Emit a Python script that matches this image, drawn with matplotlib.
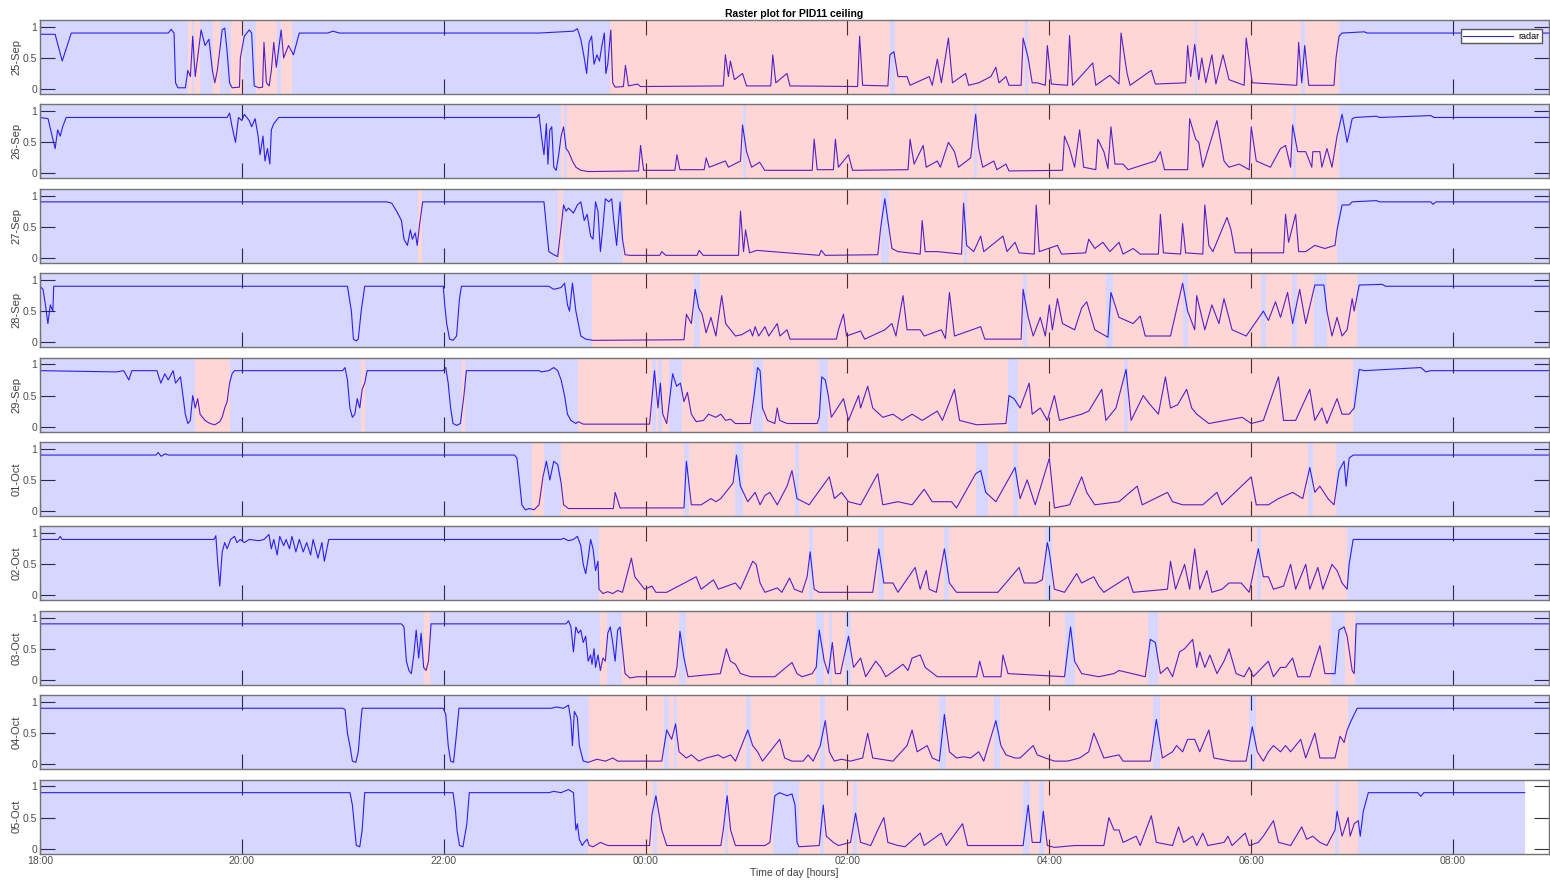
import matplotlib.pyplot as plt

# radar signal per night, hours after 18:00 -> normalised value
d25sep = [(0, .88), (.15, .88), (.22, .45), (.31, .9), (1.27, .9), (1.30, .96), (1.328, .9), (1.343, .1), (1.367, .02),
          (1.44, .02), (1.465, .3), (1.49, .2), (1.513, .85), (1.538, .2), (1.596, .95), (1.635, .7), (1.674, .8),
          (1.708, .3), (1.732, .1), (1.757, .3), (1.805, .95), (1.83, .98), (1.854, .6), (1.878, .1), (1.903, .02),
          (1.976, .03), (1.985, .5), (2.024, .85), (2.073, .95), (2.097, .9), (2.122, .05), (2.17, .02), (2.205, .03),
          (2.219, .75), (2.243, .1), (2.27, .05), (2.292, .3), (2.316, .75), (2.341, .35), (2.389, .95), (2.414, .5),
          (2.462, .7), (2.511, .55), (2.569, .9), (2.85, .9), (2.90, .93), (2.97, .9), (4.94, .9), (5.285, .93),
          (5.324, .97), (5.358, .8), (5.392, .5), (5.416, .25), (5.44, .75), (5.465, .85), (5.489, .4), (5.518, .55),
          (5.543, .45), (5.567, .7), (5.591, .9), (5.606, .25), (5.625, .4), (5.655, .95), (5.674, .1), (5.698, .03),
          (5.78, .04), (5.80, .38), (5.83, .05), (5.92, .08), (5.95, .04), (6.77, .05), (6.79, .55), (6.82, .2),
          (6.84, .45), (6.88, .15), (6.96, .25), (7.0, .05), (7.24, .05), (7.26, .55), (7.29, .1), (7.40, .25),
          (7.43, .05), (8.10, .04), (8.12, .85), (8.15, .06), (8.40, .05), (8.42, .55), (8.46, .6), (8.50, .2),
          (8.59, .2), (8.62, .06), (8.81, .2), (8.84, .06), (8.89, .48), (8.93, .1), (9.0, .82), (9.04, .1),
          (9.17, .25), (9.20, .06), (9.30, .1), (9.42, .2), (9.47, .35), (9.5, .1), (9.57, .2), (9.6, .06),
          (9.72, .06), (9.74, .82), (9.79, .5), (9.83, .1), (9.88, .1), (9.96, .06), (9.98, .7), (10.02, .08),
          (10.18, .06), (10.2, .86), (10.23, .06), (10.43, .42), (10.46, .06), (10.6, .22), (10.69, .08), (10.71, .9),
          (10.77, .25), (10.8, .06), (11.01, .3), (11.05, .08), (11.35, .1), (11.37, .7), (11.40, .2), (11.44, .72),
          (11.48, .15), (11.51, .5), (11.55, .1), (11.61, .55), (11.65, .08), (11.72, .55), (11.78, .15), (11.93, .06),
          (11.95, .82), (12.01, .1), (12.45, .06), (12.47, .75), (12.50, .1), (12.53, .7), (12.57, .06), (12.82, .06),
          (12.84, .5), (12.87, .85), (12.90, .9), (13.12, .92), (13.15, .9), (13.95, .9), (14.95, .9)]

d26sep = [(0, .9), (.08, .88), (.12, .6), (.15, .4), (.175, .7), (.2, .6), (.224, .75), (.26, .9), (1.854, .9),
          (1.878, .97), (1.903, .75), (1.937, .5), (1.966, .9), (2.0, .85), (2.024, .95), (2.073, .85), (2.097, .75),
          (2.131, .88), (2.161, .6), (2.18, .3), (2.209, .6), (2.229, .2), (2.253, .4), (2.277, .15), (2.292, .7),
          (2.316, .8), (2.365, .9), (4.92, .9), (4.944, .95), (4.968, .6), (4.993, .3), (5.017, .8), (5.032, .15),
          (5.051, .7), (5.07, .75), (5.09, .1), (5.114, .05), (5.139, .3), (5.163, .6), (5.187, .75), (5.212, .4),
          (5.236, .35), (5.275, .2), (5.309, .1), (5.358, .05), (5.43, .03), (5.93, .04), (5.95, .45), (5.98, .05),
          (6.29, .05), (6.31, .3), (6.34, .06), (6.58, .06), (6.6, .25), (6.63, .1), (6.79, .2), (6.82, .1),
          (6.94, .2), (6.96, .78), (7.0, .35), (7.05, .1), (7.13, .18), (7.18, .05), (7.65, .05), (7.67, .55),
          (7.7, .06), (7.86, .06), (7.88, .55), (7.91, .1), (8.01, .3), (8.05, .05), (8.60, .06), (8.62, .55),
          (8.66, .15), (8.75, .45), (8.78, .1), (8.89, .2), (8.92, .1), (9.0, .5), (9.06, .35), (9.1, .1),
          (9.22, .25), (9.27, .95), (9.3, .4), (9.34, .1), (9.45, .2), (9.48, .06), (9.57, .15), (9.6, .04),
          (10.13, .05), (10.15, .6), (10.2, .4), (10.25, .1), (10.3, .7), (10.34, .1), (10.46, .06), (10.48, .55),
          (10.54, .35), (10.58, .08), (10.61, .75), (10.65, .15), (10.73, .15), (10.78, .06), (11.05, .2), (11.1, .35),
          (11.14, .06), (11.37, .06), (11.39, .88), (11.45, .55), (11.48, .5), (11.52, .1), (11.66, .85), (11.73, .2),
          (11.78, .1), (11.88, .15), (11.98, .06), (12.0, .75), (12.05, .2), (12.19, .1), (12.29, .4), (12.34, .45),
          (12.39, .1), (12.41, .78), (12.46, .35), (12.54, .35), (12.6, .1), (12.61, .35), (12.68, .35), (12.7, .1),
          (12.75, .4), (12.8, .1), (12.85, .6), (12.9, .95), (12.95, .5), (13.0, .88), (13.03, .9), (13.24, .92),
          (13.27, .9), (13.78, .93), (13.81, .9), (14.95, .9)]

d27sep = [(0, .9), (3.435, .9), (3.484, .88), (3.533, .75), (3.581, .6), (3.606, .3), (3.64, .2), (3.669, .45),
          (3.689, .3), (3.718, .4), (3.737, .2), (3.762, .55), (3.791, .9), (4.993, .9), (5.017, .5), (5.041, .1),
          (5.09, .05), (5.129, .02), (5.163, .5), (5.187, .85), (5.212, .75), (5.236, .8), (5.285, .72), (5.324, .85),
          (5.358, .9), (5.392, .6), (5.421, .7), (5.455, .35), (5.479, .3), (5.504, .9), (5.528, .75), (5.552, .1),
          (5.577, .5), (5.601, .95), (5.635, .9), (5.664, .95), (5.684, .6), (5.713, .2), (5.747, .9), (5.771, .3),
          (5.796, .05), (5.844, .04), (6.14, .04), (6.16, .1), (6.2, .04), (6.51, .04), (6.53, .12), (6.57, .04),
          (6.92, .04), (6.94, .75), (6.97, .1), (6.99, .45), (7.03, .08), (7.1, .12), (7.25, .1), (7.72, .04),
          (7.74, .12), (7.78, .04), (8.3, .05), (8.33, .5), (8.37, .95), (8.40, .6), (8.44, .15), (8.5, .1),
          (8.72, .06), (8.74, .6), (8.77, .1), (8.89, .1), (9.13, .06), (9.15, .88), (9.18, .2), (9.25, .1),
          (9.32, .35), (9.35, .1), (9.54, .35), (9.58, .1), (9.66, .25), (9.7, .08), (9.85, .06), (9.87, .85),
          (9.9, .1), (10.08, .2), (10.12, .06), (10.36, .08), (10.39, .3), (10.45, .15), (10.53, .25), (10.6, .1),
          (10.69, .25), (10.73, .06), (10.83, .15), (10.9, .06), (11.08, .06), (11.1, .7), (11.13, .08), (11.3, .06),
          (11.32, .55), (11.35, .08), (11.52, .06), (11.54, .85), (11.58, .2), (11.62, .1), (11.76, .65), (11.8, .45),
          (11.84, .08), (12.32, .08), (12.34, .7), (12.37, .25), (12.44, .7), (12.47, .1), (12.54, .1), (12.63, .2),
          (12.73, .15), (12.83, .2), (12.85, .45), (12.9, .85), (12.97, .85), (13.0, .9), (13.24, .92), (13.27, .9),
          (13.78, .9), (13.8, .86), (13.83, .9), (14.95, .9)]

d28sep = [(0, .9), (.03, .85), (.054, .6), (.078, .3), (.102, .6), (.127, .5), (.136, .9), (3.046, .9), (3.085, .5),
          (3.105, .05), (3.134, .02), (3.153, .05), (3.182, .5), (3.217, .9), (3.995, .9), (4.01, .6), (4.029, .3),
          (4.058, .05), (4.092, .03), (4.127, .1), (4.156, .7), (4.175, .9), (5.041, .9), (5.09, .85), (5.163, .88),
          (5.197, .95), (5.226, .6), (5.246, .5), (5.275, .95), (5.309, .5), (5.333, .3), (5.358, .1), (5.406, .05),
          (5.479, .03), (6.38, .04), (6.404, .45), (6.453, .3), (6.491, .85), (6.526, .55), (6.56, .45), (6.599, .15),
          (6.647, .4), (6.696, .1), (6.754, .75), (6.793, .3), (6.842, .2), (6.89, .1), (6.95, .12), (7.036, .2),
          (7.06, .1), (7.085, .25), (7.12, .1), (7.182, .25), (7.22, .1), (7.304, .3), (7.33, .1), (7.401, .2),
          (7.43, .05), (7.89, .05), (7.91, .2), (7.96, .45), (7.99, .1), (8.13, .18), (8.17, .05), (8.37, .2),
          (8.44, .3), (8.48, .1), (8.55, .75), (8.59, .2), (8.72, .2), (8.76, .1), (8.93, .2), (8.97, .06),
          (9.01, .8), (9.06, .1), (9.32, .25), (9.36, .05), (9.72, .05), (9.74, .85), (9.79, .4), (9.84, .1),
          (9.91, .4), (9.96, .1), (10.0, .6), (10.03, .2), (10.08, .7), (10.13, .3), (10.25, .2), (10.32, .55),
          (10.37, .65), (10.45, .2), (10.58, .08), (10.61, .8), (10.69, .4), (10.83, .3), (10.9, .42), (10.95, .1),
          (11.2, .1), (11.32, .95), (11.37, .5), (11.44, .2), (11.46, .75), (11.54, .2), (11.61, .6), (11.68, .3),
          (11.73, .7), (11.81, .2), (11.95, .1), (12.12, .5), (12.17, .35), (12.24, .65), (12.29, .4), (12.36, .8),
          (12.41, .3), (12.48, .85), (12.54, .3), (12.63, .92), (12.72, .92), (12.75, .5), (12.8, .1), (12.85, .4),
          (12.9, .1), (12.95, .2), (13.0, .7), (13.02, .5), (13.07, .92), (13.3, .93), (13.33, .9), (14.95, .9)]

d29sep = [(0, .9), (.76, .88), (.83, .9), (.88, .75), (.91, .9), (1.158, .9), (1.197, .7), (1.236, .85), (1.27, .75),
          (1.319, .9), (1.343, .7), (1.392, .8), (1.416, .5), (1.44, .2), (1.465, .05), (1.489, .1), (1.513, .5),
          (1.538, .3), (1.562, .45), (1.586, .2), (1.635, .1), (1.684, .05), (1.732, .03), (1.781, .08), (1.805, .15),
          (1.83, .3), (1.854, .4), (1.878, .7), (1.903, .85), (1.927, .9), (2.998, .9), (3.022, .95), (3.046, .75),
          (3.07, .3), (3.095, .15), (3.119, .2), (3.143, .45), (3.168, .3), (3.192, .6), (3.217, .7), (3.241, .9),
          (3.995, .9), (4.02, .95), (4.044, .7), (4.068, .3), (4.092, .05), (4.127, .02), (4.165, .05), (4.2, .5),
          (4.224, .9), (4.944, .9), (4.968, .88), (5.041, .9), (5.09, .95), (5.129, .9), (5.163, .75), (5.197, .5),
          (5.226, .2), (5.26, .1), (5.309, .05), (5.333, .08), (5.382, .04), (6.039, .04), (6.088, .9), (6.122, .3),
          (6.146, .7), (6.17, .2), (6.209, .05), (6.268, .85), (6.307, .65), (6.345, .7), (6.38, .4), (6.414, .55),
          (6.453, .2), (6.501, .08), (6.574, .1), (6.623, .2), (6.696, .15), (6.745, .2), (6.793, .1), (6.842, .12),
          (6.89, .05), (7.036, .05), (7.075, .5), (7.109, .95), (7.134, .9), (7.158, .3), (7.207, .1), (7.28, .05),
          (7.304, .3), (7.328, .1), (7.401, .05), (7.70, .05), (7.72, .15), (7.745, .8), (7.78, .75), (7.81, .5),
          (7.84, .15), (7.94, .4), (7.96, .45), (8.01, .1), (8.11, .5), (8.13, .3), (8.2, .65), (8.25, .3),
          (8.35, .15), (8.45, .2), (8.54, .1), (8.64, .2), (8.74, .1), (8.89, .25), (8.94, .1), (9.06, .6),
          (9.11, .1), (9.28, .03), (9.57, .05), (9.6, .5), (9.65, .45), (9.69, .35), (9.71, .3), (9.8, .7),
          (9.83, .2), (9.91, .3), (9.98, .1), (10.05, .5), (10.1, .1), (10.32, .2), (10.39, .25), (10.52, .6),
          (10.56, .1), (10.66, .3), (10.76, .92), (10.81, .1), (10.93, .5), (11.0, .35), (11.08, .2), (11.15, .8),
          (11.2, .3), (11.27, .35), (11.36, .6), (11.41, .3), (11.46, .2), (11.58, .05), (11.91, .15), (12.0, .05),
          (12.12, .1), (12.27, .8), (12.32, .1), (12.44, .1), (12.58, .6), (12.63, .1), (12.7, .3), (12.75, .05),
          (12.85, .45), (12.9, .2), (12.97, .2), (13.02, .3), (13.07, .92), (13.12, .9), (13.68, .95), (13.73, .88),
          (13.78, .9), (14.95, .9)]

d01oct = [(0, .9), (1.15, .9), (1.17, .94), (1.2, .88), (1.24, .92), (1.27, .9), (4.701, .9), (4.725, .85),
          (4.749, .5), (4.774, .1), (4.808, .02), (4.847, .04), (4.895, .02), (4.944, .1), (4.983, .55), (5.017, .8),
          (5.051, .5), (5.09, .8), (5.129, .75), (5.163, .45), (5.187, .1), (5.236, .04), (5.68, .04), (5.698, .3),
          (5.747, .05), (6.38, .05), (6.404, .8), (6.453, .1), (6.55, .1), (6.647, .2), (6.696, .15), (6.745, .2),
          (6.793, .3), (6.866, .45), (6.9, .9), (6.939, .4), (7.012, .15), (7.085, .3), (7.134, .1), (7.182, .25),
          (7.231, .3), (7.304, .1), (7.401, .4), (7.45, .65), (7.5, .2), (7.62, .1), (7.82, .55), (7.87, .2),
          (7.94, .3), (8.01, .15), (8.13, .1), (8.3, .6), (8.35, .1), (8.5, .15), (8.64, .1), (8.76, .35),
          (8.84, .15), (9.03, .15), (9.08, .05), (9.27, .6), (9.32, .65), (9.37, .3), (9.47, .15), (9.66, .7),
          (9.71, .2), (9.78, .5), (9.86, .1), (10.0, .85), (10.05, .05), (10.2, .1), (10.32, .55), (10.37, .3),
          (10.45, .1), (10.69, .15), (10.87, .4), (10.92, .1), (11.17, .3), (11.22, .15), (11.32, .1), (11.52, .1),
          (11.66, .3), (11.71, .1), (12.0, .55), (12.05, .1), (12.17, .1), (12.27, .2), (12.41, .3), (12.51, .2),
          (12.58, .7), (12.63, .3), (12.68, .4), (12.76, .2), (12.82, .1), (12.87, .65), (12.92, .8), (12.94, .4),
          (12.97, .85), (13.01, .9), (14.95, .9)]

d02oct = [(0, .9), (.18, .9), (.2, .95), (.22, .9), (1.723, .9), (1.742, .96), (1.762, .5), (1.781, .15), (1.805, .7),
          (1.83, .85), (1.854, .75), (1.888, .9), (1.927, .95), (1.951, .85), (1.985, .9), (2.024, .85), (2.073, .9),
          (2.17, .88), (2.219, .9), (2.268, .98), (2.292, .75), (2.316, .9), (2.35, .65), (2.375, .95), (2.414, .8),
          (2.438, .9), (2.472, .75), (2.496, .95), (2.535, .7), (2.569, .9), (2.608, .7), (2.642, .85), (2.681, .65),
          (2.706, .9), (2.754, .6), (2.793, .85), (2.817, .55), (2.842, .75), (2.861, .9), (5.163, .9), (5.187, .92),
          (5.236, .88), (5.285, .9), (5.324, .95), (5.358, .8), (5.382, .5), (5.406, .35), (5.431, .6), (5.455, .9),
          (5.479, .75), (5.504, .4), (5.528, .55), (5.538, .1), (5.577, .03), (5.625, .06), (5.674, .03),
          (5.723, .08), (5.771, .05), (5.859, .6), (5.893, .3), (5.942, .2), (5.99, .1), (6.063, .15), (6.102, .05),
          (6.209, .05), (6.501, .3), (6.55, .1), (6.672, .25), (6.72, .1), (6.89, .2), (6.939, .1), (7.061, .55),
          (7.095, .5), (7.134, .2), (7.182, .05), (7.304, .12), (7.35, .05), (7.426, .28), (7.474, .1), (7.55, .05),
          (7.6, .3), (7.63, .7), (7.67, .1), (7.72, .05), (8.25, .05), (8.31, .75), (8.36, .2), (8.45, .2),
          (8.5, .05), (8.67, .45), (8.72, .1), (8.78, .4), (8.81, .1), (8.88, .05), (8.96, .75), (9.01, .2),
          (9.08, .05), (9.49, .05), (9.7, .45), (9.75, .2), (9.8, .2), (9.87, .2), (9.93, .25), (9.98, .85),
          (10.0, .7), (10.05, .1), (10.15, .05), (10.27, .35), (10.32, .2), (10.44, .3), (10.49, .15), (10.54, .05),
          (10.78, .3), (10.83, .05), (11.17, .1), (11.2, .55), (11.25, .1), (11.34, .5), (11.39, .1), (11.44, .75),
          (11.49, .1), (11.56, .4), (11.61, .05), (11.71, .1), (11.78, .2), (11.9, .2), (11.98, .05), (12.07, .75),
          (12.12, .3), (12.17, .3), (12.22, .1), (12.32, .15), (12.39, .5), (12.44, .1), (12.54, .5), (12.58, .1),
          (12.66, .45), (12.71, .1), (12.8, .5), (12.85, .4), (12.9, .2), (12.95, .1), (12.97, .5), (13.01, .9),
          (14.95, .9)]

d03oct = [(0, .9), (3.581, .9), (3.606, .85), (3.63, .3), (3.655, .15), (3.679, .1), (3.703, .4), (3.727, .8),
          (3.752, .35), (3.776, .75), (3.801, .2), (3.825, .15), (3.849, .3), (3.874, .9), (5.212, .9), (5.236, .95),
          (5.26, .85), (5.285, .45), (5.309, .85), (5.333, .75), (5.358, .8), (5.382, .6), (5.406, .7), (5.431, .3),
          (5.455, .4), (5.469, .25), (5.489, .5), (5.504, .2), (5.528, .4), (5.552, .15), (5.577, .35), (5.601, .3),
          (5.625, .75), (5.65, .85), (5.674, .6), (5.698, .3), (5.723, .8), (5.747, .85), (5.771, .5), (5.796, .1),
          (5.844, .03), (5.917, .05), (6.29, .05), (6.31, .2), (6.34, .78), (6.38, .35), (6.42, .05), (6.74, .1),
          (6.8, .5), (6.84, .3), (6.89, .25), (6.94, .1), (7.04, .05), (7.28, .05), (7.45, .28), (7.5, .1),
          (7.55, .05), (7.65, .1), (7.69, .2), (7.72, .8), (7.77, .3), (7.81, .1), (7.85, .6), (7.88, .1),
          (7.93, .1), (8.01, .7), (8.06, .2), (8.13, .35), (8.18, .05), (8.28, .3), (8.33, .2), (8.38, .05),
          (8.55, .25), (8.6, .15), (8.64, .35), (8.72, .4), (8.77, .2), (8.89, .05), (9.28, .05), (9.31, .3),
          (9.35, .05), (9.52, .05), (9.54, .4), (9.59, .1), (10.15, .05), (10.21, .85), (10.25, .3), (10.32, .1),
          (10.49, .05), (10.64, .1), (10.69, .15), (10.95, .05), (11.0, .65), (11.05, .6), (11.1, .1), (11.17, .2),
          (11.22, .05), (11.29, .45), (11.34, .5), (11.42, .65), (11.46, .2), (11.49, .45), (11.54, .2), (11.59, .4),
          (11.66, .1), (11.73, .3), (11.78, .5), (11.85, .1), (11.93, .05), (11.98, .2), (12.02, .05), (12.17, .3),
          (12.22, .05), (12.29, .2), (12.34, .2), (12.41, .35), (12.46, .05), (12.58, .05), (12.68, .55),
          (12.73, .1), (12.83, .1), (12.87, .8), (12.92, .85), (12.95, .7), (13.0, .15), (13.02, .1), (13.04, .9),
          (14.95, .9)]

d04oct = [(0, .9), (2.998, .9), (3.022, .88), (3.046, .5), (3.07, .3), (3.095, .05), (3.129, .03), (3.153, .2),
          (3.182, .75), (3.192, .9), (3.995, .9), (4.02, .8), (4.044, .3), (4.068, .05), (4.097, .03), (4.127, .5),
          (4.151, .9), (5.066, .9), (5.114, .92), (5.187, .9), (5.236, .95), (5.26, .7), (5.275, .3), (5.294, .85),
          (5.324, .75), (5.343, .3), (5.382, .05), (5.431, .03), (5.518, .08), (5.601, .05), (5.674, .1),
          (5.723, .05), (6.16, .05), (6.209, .55), (6.258, .4), (6.297, .65), (6.331, .2), (6.404, .1), (6.453, .15),
          (6.526, .05), (6.599, .1), (6.72, .15), (6.769, .1), (6.842, .15), (6.89, .05), (7.012, .55), (7.061, .3),
          (7.109, .2), (7.158, .05), (7.328, .4), (7.377, .1), (7.45, .05), (7.56, .05), (7.61, .15), (7.66, .05),
          (7.73, .3), (7.78, .7), (7.82, .2), (7.87, .05), (7.94, .08), (8.03, .05), (8.15, .1), (8.2, .5),
          (8.25, .1), (8.45, .05), (8.59, .3), (8.64, .55), (8.69, .2), (8.79, .3), (8.84, .1), (8.91, .05),
          (8.96, .8), (9.01, .2), (9.08, .1), (9.15, .12), (9.22, .1), (9.3, .2), (9.35, .05), (9.47, .7),
          (9.52, .3), (9.57, .15), (9.66, .1), (9.71, .1), (9.84, .3), (9.88, .15), (9.96, .1), (10.05, .05),
          (10.18, .05), (10.3, .1), (10.39, .2), (10.44, .5), (10.49, .3), (10.54, .1), (10.69, .15), (10.73, .05),
          (11.0, .05), (11.06, .72), (11.12, .1), (11.22, .2), (11.26, .3), (11.32, .2), (11.37, .4), (11.44, .4),
          (11.49, .2), (11.58, .55), (11.63, .1), (11.8, .05), (11.95, .05), (12.01, .6), (12.06, .2), (12.12, .05),
          (12.17, .2), (12.22, .3), (12.29, .2), (12.34, .3), (12.39, .2), (12.49, .4), (12.54, .1), (12.63, .5),
          (12.68, .1), (12.83, .1), (12.88, .45), (12.92, .35), (12.95, .55), (12.99, .7), (13.05, .9), (14.95, .9)]

d05oct = [(0, .9), (3.071, .9), (3.095, .7), (3.119, .3), (3.134, .05), (3.168, .03), (3.192, .3), (3.217, .9),
          (4.092, .9), (4.117, .6), (4.131, .3), (4.156, .05), (4.19, .03), (4.229, .4), (4.253, .9), (5.041, .9),
          (5.09, .92), (5.163, .9), (5.236, .95), (5.285, .9), (5.309, .3), (5.324, .4), (5.343, .15), (5.372, .05),
          (5.392, .1), (5.421, .15), (5.441, .05), (5.479, .03), (5.552, .1), (5.625, .05), (6.039, .05),
          (6.063, .55), (6.102, .85), (6.16, .3), (6.209, .05), (6.745, .05), (6.769, .3), (6.808, .85), (6.842, .3),
          (6.89, .05), (7.182, .05), (7.231, .1), (7.28, .85), (7.328, .9), (7.401, .85), (7.45, .88), (7.48, .7),
          (7.5, .1), (7.52, .03), (7.72, .05), (7.76, .7), (7.79, .2), (7.86, .1), (7.91, .05), (8.03, .1),
          (8.08, .57), (8.13, .1), (8.23, .05), (8.3, .3), (8.36, .5), (8.4, .1), (8.5, .05), (8.57, .03),
          (8.72, .25), (8.76, .05), (8.93, .25), (8.98, .05), (9.14, .4), (9.19, .05), (9.74, .05), (9.79, .7),
          (9.83, .1), (9.91, .1), (9.94, .6), (9.98, .05), (10.05, .02), (10.25, .05), (10.54, .05), (10.59, .5),
          (10.64, .3), (10.69, .3), (10.73, .1), (10.86, .2), (10.9, .05), (11.01, .53), (11.06, .1), (11.22, .05),
          (11.28, .35), (11.33, .1), (11.42, .2), (11.46, .05), (11.52, .25), (11.57, .05), (11.73, .1), (11.77, .2),
          (11.81, .05), (11.94, .25), (11.98, .05), (12.07, .1), (12.12, .2), (12.22, .45), (12.27, .1), (12.39, .05),
          (12.5, .35), (12.55, .15), (12.61, .2), (12.68, .1), (12.75, .05), (12.83, .3), (12.85, .6), (12.9, .2),
          (12.92, .3), (12.96, .5), (12.98, .2), (13.02, .4), (13.06, .45), (13.08, .2), (13.11, .6), (13.16, .9),
          (13.65, .9), (13.68, .84), (13.71, .9), (14.71, .9)]

days = ['25-Sep', '26-Sep', '27-Sep', '28-Sep', '29-Sep', '01-Oct', '02-Oct', '03-Oct', '04-Oct', '05-Oct']
traces = [d25sep, d26sep, d27sep, d28sep, d29sep, d01oct, d02oct, d03oct, d04oct, d05oct]

# red = scored asleep, hours after 18:00
sleep_spans = [
    [(1.47, 1.51), (1.53, 1.59), (1.71, 1.78), (1.89, 2.01), (2.14, 2.35), (2.39, 2.50), (5.65, 12.87)],
    [(5.16, 12.87)],
    [(3.74, 3.78), (5.13, 5.18), (5.78, 12.85)],
    [(5.47, 13.05)],
    [(1.54, 1.88), (3.18, 3.22), (4.18, 4.21), (5.33, 13.01)],
    [(4.87, 4.99), (5.16, 12.84)],
    [(5.54, 12.95)],
    [(3.80, 3.86), (5.55, 5.62), (5.77, 13.03)],
    [(5.44, 12.96)],
    [(5.43, 13.06)],
]
# short wake bouts inside the sleep spans
wake_gaps = [
    [(8.42, 8.47), (9.76, 9.79), (11.44, 11.46), (12.49, 12.53)],
    [(5.19, 5.22), (6.96, 6.99), (9.25, 9.28), (12.41, 12.44)],
    [(8.33, 8.41), (9.15, 9.18)],
    [(6.48, 6.54), (9.74, 9.78), (10.56, 10.63), (11.32, 11.37), (12.1, 12.15), (12.4, 12.45), (12.62, 12.75)],
    [(6.06, 6.1), (6.12, 6.16), (6.23, 6.36), (7.06, 7.16), (7.72, 7.81), (9.59, 9.69), (10.74, 10.78)],
    [(6.38, 6.43), (6.89, 6.96), (7.48, 7.52), (9.27, 9.39), (9.64, 9.69), (12.56, 12.61)],
    [(7.62, 7.66), (8.3, 8.36), (8.96, 9.01), (9.96, 10.03), (12.06, 12.1)],
    [(6.33, 6.4), (7.69, 7.77), (7.82, 7.85), (7.98, 8.03), (10.15, 10.25), (10.98, 11.08), (12.79, 12.93)],
    [(6.18, 6.23), (6.28, 6.31), (6.99, 7.04), (7.73, 7.78), (8.91, 8.98), (9.45, 9.51), (11.03, 11.1), (11.98, 12.05)],
    [(6.07, 6.11), (6.79, 6.82), (7.26, 7.52), (7.73, 7.77), (8.05, 8.09), (9.74, 9.81), (9.9, 9.95), (12.83, 12.87)],
]
record_end = [14.95] * 9 + [14.71]

hour_ticks = [0, 2, 4, 6, 8, 10, 12, 14]
tick_labels = ['18:00', '20:00', '22:00', '00:00', '02:00', '04:00', '06:00', '08:00']


def cut_gaps(spans, gaps):
    out = []
    for a, b in spans:
        cur = a
        for g0, g1 in sorted(gaps):
            if g1 <= cur or g0 >= b:
                continue
            if g0 > cur:
                out.append((cur, g0))
            cur = max(cur, g1)
        if cur < b:
            out.append((cur, b))
    return out


def complement(spans, end):
    out, cur = [], 0.0
    for a, b in spans:
        if a > cur:
            out.append((cur, a))
        cur = b
    if cur < end:
        out.append((cur, end))
    return out


plt.rcParams['font.family'] = ['Liberation Sans', 'DejaVu Sans']

fig = plt.figure(figsize=(15.5, 8.83), dpi=100)
W, H = 1550.0, 883.0
left, right = 40, 1549
row_top0, row_step, row_h = 20, 84.4, 74

line_col = '#3626ea'
for i, (day, tr) in enumerate(zip(days, traces)):
    top = row_top0 + row_step * i
    ax = fig.add_axes([left / W, 1 - (top + row_h) / H, (right - left) / W, row_h / H])
    t = [p[0] for p in tr]
    v = [p[1] for p in tr]
    ax.plot(t, v, color=line_col, lw=0.8, zorder=1, label='radar')

    red = cut_gaps(sleep_spans[i], wake_gaps[i])
    blue = complement(red, record_end[i])
    for a, b in blue:
        ax.axvspan(a, b, color=(0, 0, 1), alpha=0.16, lw=0, zorder=2)
    for a, b in red:
        ax.axvspan(a, b, color=(1, 0, 0), alpha=0.16, lw=0, zorder=2)

    ax.set_xlim(0, 14.95)
    ax.set_ylim(-0.08, 1.11)
    ax.set_yticks([0, 0.5, 1])
    ax.set_yticklabels(['0', '0.5', '1'])
    ax.set_xticks(hour_ticks)
    if i == len(days) - 1:
        ax.set_xticklabels(tick_labels)
        ax.set_xlabel('Time of day [hours]', fontsize=7.5, color='0.25', labelpad=1)
    else:
        ax.set_xticklabels([])
    ax.tick_params(direction='in', length=10.5, width=0.8, color='0.2', top=True, right=True,
                   labelsize=7.5, labelcolor='0.3', pad=2)
    ax.set_ylabel(day, fontsize=8, color='0.25', labelpad=1)
    for s in ax.spines.values():
        s.set_color('0.45')
        s.set_linewidth(1.0)

    if i == 0:
        ax.set_title('Raster plot for PID11 ceiling', fontsize=7.5, fontweight='bold', pad=2)
        ax.legend(loc='upper right', bbox_to_anchor=(0.9985, 0.94), fontsize=6.5, handlelength=5.5,
                  borderpad=0.3, handletextpad=0.6, fancybox=False, framealpha=1, edgecolor='0.35')

fig.savefig('out.png', dpi=100)
